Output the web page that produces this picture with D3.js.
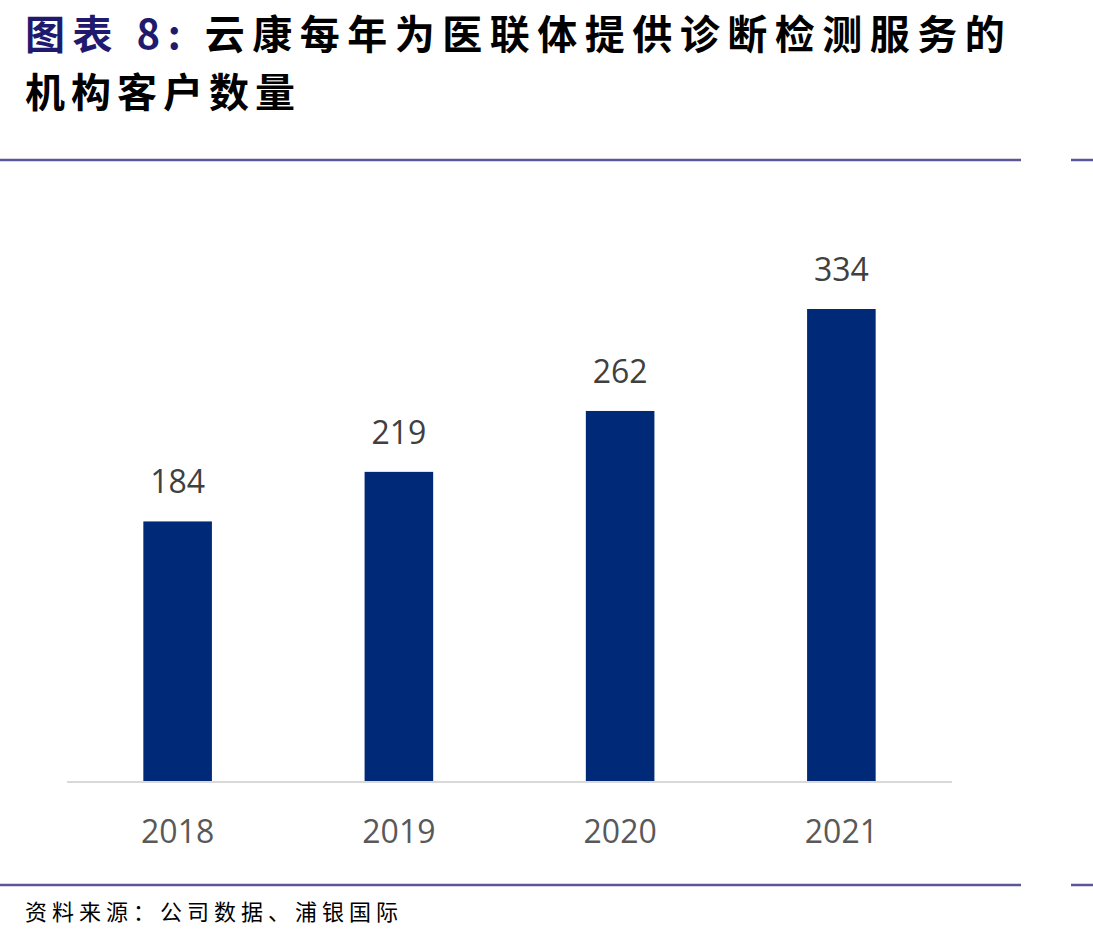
<!DOCTYPE html>
<html>
<head>
<meta charset="utf-8">
<script src="https://cdn.jsdelivr.net/npm/d3@7"></script>
<style>
  body { margin: 0; background: #fff; }
  svg { display: block; }
</style>
</head>
<body>
<div id="chart"></div>
<script>
var years = ['2018', '2019', '2020', '2021'];
var clients = [184, 219, 262, 334];

var width = 1093;
var height = 942;
var cjk = '"Noto Sans CJK SC", "Noto Sans", sans-serif';
var latin = '"Open Sans", "Noto Sans", sans-serif';

var svg = d3.select('#chart')
  .append('svg')
  .attr('width', width)
  .attr('height', height);

// title
var title = svg.append('text')
  .attr('x', 25)
  .attr('y', 49)
  .style('font-family', cjk)
  .style('font-weight', 'bold')
  .style('font-size', '40px')
  .style('letter-spacing', '7.5px');
title.append('tspan').style('fill', '#1f1a6e').text('图表 8:');
title.append('tspan').style('fill', '#000').text(' 云康每年为医联体提供诊断检测服务的');

svg.append('text')
  .attr('x', 25)
  .attr('y', 107)
  .style('font-family', cjk)
  .style('font-weight', 'bold')
  .style('font-size', '40px')
  .style('letter-spacing', '6px')
  .style('fill', '#000')
  .text('机构客户数量');

// rules
[160, 885].forEach(function(y) {
  svg.append('line')
    .attr('x1', 0).attr('x2', 1021)
    .attr('y1', y).attr('y2', y)
    .style('stroke', '#5b5796')
    .style('stroke-width', 2.5);
  svg.append('line')
    .attr('x1', 1071).attr('x2', width)
    .attr('y1', y).attr('y2', y)
    .style('stroke', '#5b5796')
    .style('stroke-width', 2.5);
});

svg.append('text')
  .attr('x', 25)
  .attr('y', 920)
  .style('font-family', cjk)
  .style('font-size', '22px')
  .style('letter-spacing', '5px')
  .style('fill', '#000')
  .text('资料来源：公司数据、浦银国际');

// chart
var x = d3.scaleBand()
  .domain(years)
  .range([67, 952])
  .paddingInner(0.69)
  .paddingOuter(0.345);

var y = d3.scaleLinear()
  .domain([0, 334])
  .range([782, 309]);

svg.selectAll('.bar')
  .data(clients)
  .enter()
  .append('rect')
  .attr('class', 'bar')
  .attr('x', function(d, i) { return x(years[i]); })
  .attr('y', function(d) { return y(d); })
  .attr('width', x.bandwidth())
  .attr('height', function(d) { return y(0) - y(d); })
  .style('fill', '#002a77');

svg.append('line')
  .attr('x1', 67).attr('x2', 952)
  .attr('y1', 782).attr('y2', 782)
  .style('stroke', '#d9d9d9')
  .style('stroke-width', 2);

svg.selectAll('.val')
  .data(clients)
  .enter()
  .append('text')
  .attr('class', 'val')
  .attr('x', function(d, i) { return x(years[i]) + x.bandwidth() / 2; })
  .attr('y', function(d) { return y(d) - 28; })
  .attr('text-anchor', 'middle')
  .style('font-family', latin)
  .style('font-size', '32px')
  .style('fill', '#404040')
  .text(function(d) { return d; });

svg.selectAll('.cat')
  .data(years)
  .enter()
  .append('text')
  .attr('class', 'cat')
  .attr('x', function(d) { return x(d) + x.bandwidth() / 2; })
  .attr('y', 843)
  .attr('text-anchor', 'middle')
  .style('font-family', latin)
  .style('font-size', '32px')
  .style('fill', '#595959')
  .text(function(d) { return d; });
</script>
</body>
</html>
